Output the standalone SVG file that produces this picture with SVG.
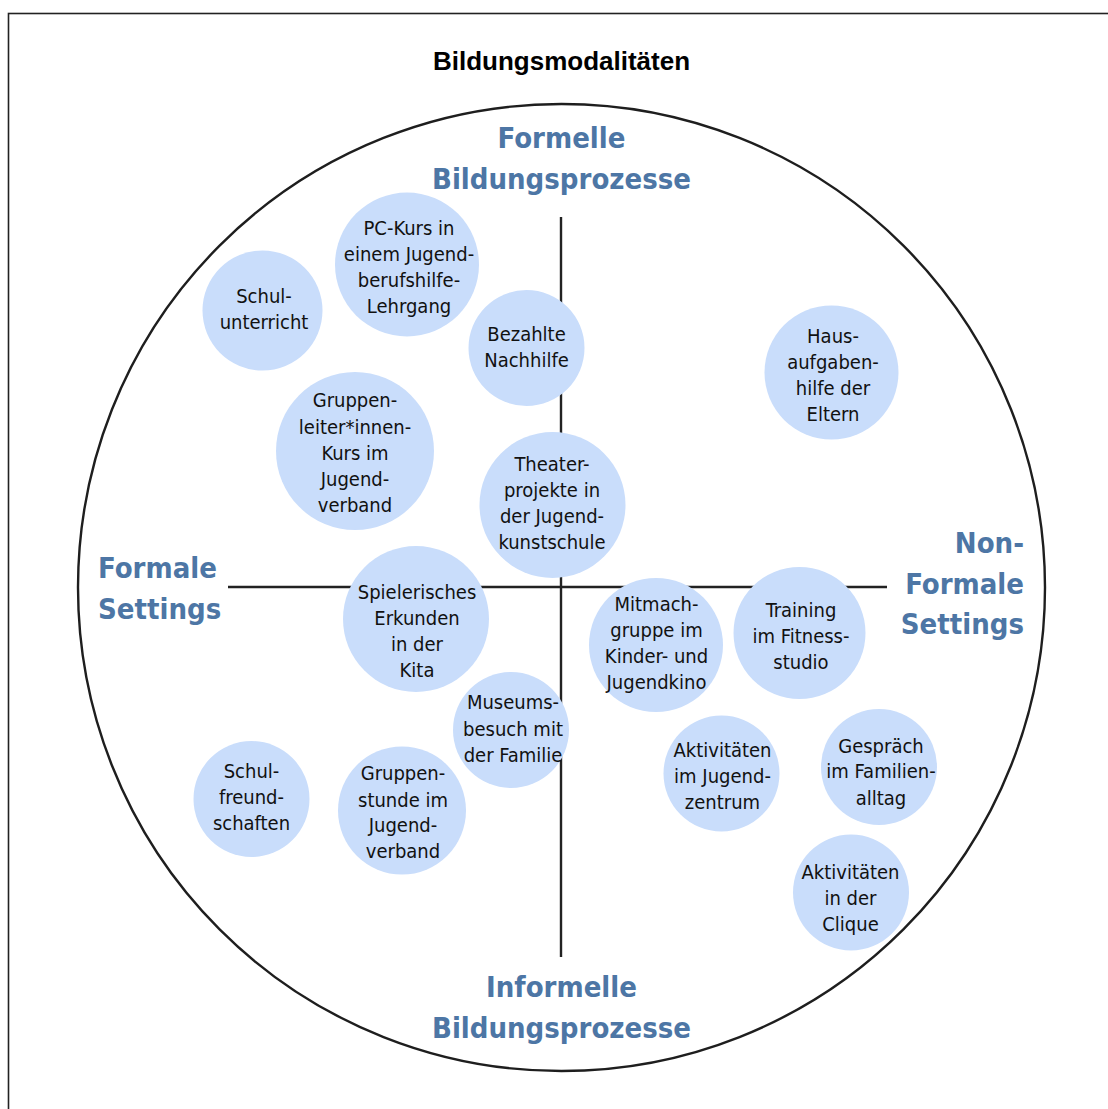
<svg xmlns="http://www.w3.org/2000/svg" width="1108" height="1109" viewBox="0 0 1108 1109">
<style>
.frame{fill:none;stroke:#222;stroke-width:1.6}
.outer{fill:none;stroke:#1e1e1e;stroke-width:2.4}
.axis{stroke:#222;stroke-width:2.4;fill:none}
.node circle{fill:#c9ddfb}
.node text{font-family:'DejaVu Sans Condensed','DejaVu Sans',sans-serif;font-stretch:condensed;font-size:20px;fill:#111;text-anchor:middle}
.lab{font-family:'DejaVu Sans Condensed','DejaVu Sans',sans-serif;font-stretch:condensed;font-weight:bold;font-size:29px;fill:#4d76a5}
.title{font-family:'Liberation Sans',Arial,sans-serif;font-weight:bold;font-size:26px;fill:#000;text-anchor:middle}
</style>
<rect class="frame" x="8.5" y="13.5" width="1120" height="1120"/>
<text class="title" x="561.5" y="70">Bildungsmodalitäten</text>
<circle class="outer" cx="561.5" cy="587.5" r="483.5"/>
<g id="connectors">
<line class="axis" x1="561" y1="217" x2="561" y2="957"/>
<line class="axis" x1="228" y1="587" x2="887" y2="587"/>
</g>
<g id="label-formell">
<text class="lab" x="561.5" y="148" text-anchor="middle">Formelle</text>
<text class="lab" x="561.5" y="189" text-anchor="middle">Bildungsprozesse</text>
</g>
<g id="label-informell">
<text class="lab" x="561.5" y="997" text-anchor="middle">Informelle</text>
<text class="lab" x="561.5" y="1038" text-anchor="middle">Bildungsprozesse</text>
</g>
<g id="label-formal">
<text class="lab" x="98" y="578">Formale</text>
<text class="lab" x="98" y="619">Settings</text>
</g>
<g id="label-nonformal">
<text class="lab" x="1024" y="553" text-anchor="end">Non-</text>
<text class="lab" x="1024" y="594" text-anchor="end">Formale</text>
<text class="lab" x="1024" y="634" text-anchor="end">Settings</text>
</g>
<g id="n-schulunterricht" class="node"><circle cx="262.5" cy="310.5" r="60"/>
<text x="264" y="303">Schul-</text><text x="264" y="329">unterricht</text></g>
<g id="n-pckurs" class="node"><circle cx="407" cy="264.5" r="72"/>
<text x="409" y="235">PC-Kurs in</text><text x="409" y="261">einem Jugend-</text><text x="409" y="287">berufshilfe-</text><text x="409" y="313">Lehrgang</text></g>
<g id="n-nachhilfe" class="node"><circle cx="526.5" cy="348" r="58"/>
<text x="526.5" y="341">Bezahlte</text><text x="526.5" y="367">Nachhilfe</text></g>
<g id="n-hausaufgaben" class="node"><circle cx="831.5" cy="372.5" r="67"/>
<text x="833" y="343">Haus-</text><text x="833" y="369">aufgaben-</text><text x="833" y="395">hilfe der</text><text x="833" y="421">Eltern</text></g>
<g id="n-gruppenleiter" class="node"><circle cx="355" cy="451" r="79"/>
<text x="355" y="407">Gruppen-</text><text x="355" y="434">leiter*innen-</text><text x="355" y="460">Kurs im</text><text x="355" y="486">Jugend-</text><text x="355" y="512">verband</text></g>
<g id="n-theater" class="node"><circle cx="552.5" cy="505" r="73"/>
<text x="552" y="471">Theater-</text><text x="552" y="497">projekte in</text><text x="552" y="523">der Jugend-</text><text x="552" y="549">kunstschule</text></g>
<g id="n-spielerisch" class="node"><circle cx="416" cy="619" r="73"/>
<text x="417" y="599">Spielerisches</text><text x="417" y="625">Erkunden</text><text x="417" y="651">in der</text><text x="417" y="677">Kita</text></g>
<g id="n-museum" class="node"><circle cx="511" cy="730" r="58"/>
<text x="513" y="709">Museums-</text><text x="513" y="736">besuch mit</text><text x="513" y="762">der Familie</text></g>
<g id="n-mitmach" class="node"><circle cx="656" cy="645" r="67"/>
<text x="656.5" y="611">Mitmach-</text><text x="656.5" y="637">gruppe im</text><text x="656.5" y="663">Kinder- und</text><text x="656.5" y="689">Jugendkino</text></g>
<g id="n-training" class="node"><circle cx="799.5" cy="633" r="66"/>
<text x="801" y="617">Training</text><text x="801" y="643">im Fitness-</text><text x="801" y="669">studio</text></g>
<g id="n-schulfreund" class="node"><circle cx="251.5" cy="799" r="58"/>
<text x="251.5" y="778">Schul-</text><text x="251.5" y="804">freund-</text><text x="251.5" y="830">schaften</text></g>
<g id="n-gruppenstunde" class="node"><circle cx="402" cy="810.5" r="64"/>
<text x="403" y="780">Gruppen-</text><text x="403" y="807">stunde im</text><text x="403" y="832">Jugend-</text><text x="403" y="858">verband</text></g>
<g id="n-jugendzentrum" class="node"><circle cx="721.5" cy="773.5" r="58"/>
<text x="722.5" y="757">Aktivitäten</text><text x="722.5" y="783">im Jugend-</text><text x="722.5" y="809">zentrum</text></g>
<g id="n-gespraech" class="node"><circle cx="879" cy="767" r="58"/>
<text x="881" y="753">Gespräch</text><text x="881" y="778">im Familien-</text><text x="881" y="805">alltag</text></g>
<g id="n-clique" class="node"><circle cx="851" cy="892.5" r="58"/>
<text x="850.5" y="879">Aktivitäten</text><text x="850.5" y="905">in der</text><text x="850.5" y="931">Clique</text></g>
</svg>
